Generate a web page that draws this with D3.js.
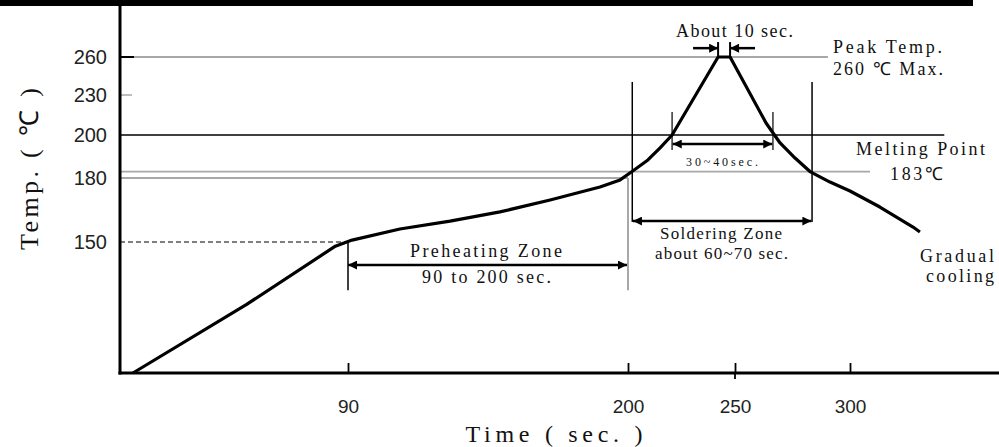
<!DOCTYPE html>
<html><head><meta charset="utf-8">
<script src="https://cdn.jsdelivr.net/npm/d3@7"></script>
<style>
html,body{margin:0;padding:0;background:#fff;}
svg{display:block;}
</style></head>
<body>
<svg id="chart" width="999" height="447"></svg>
<script>
// ---- data ----
const profileTime = [5.1, 50, 85, 91.6, 110.4, 130.1, 149.7, 169.4, 189, 196.9, 201.9, 209.3, 215, 220.6, 242.1, 247.7, 263.5, 269.6, 276.1, 282.6, 291.3, 300, 313, 327.4, 330.4];
const profileTemp = [25, 90.5, 146, 150.9, 156.1, 159.8, 164.1, 169.7, 175.8, 179.1, 183, 188.4, 194, 200, 260, 260, 209, 196.3, 189.3, 183, 178.1, 173.9, 166.4, 157, 154.7];
const xTicks = [90, 200, 250, 300];
const yTicks = [150, 180, 200, 230, 260];
const peakTemp = 260, meltTemp = 183, soakTemp = 180, preheatTemp = 150, refTemp = 200;
const preheatStart = 90, preheatEnd = 200;
const solderStart = 202, solderEnd = 283.5;
const liquidStart = 220.6, liquidEnd = 266.5;
const peakStart = 242.1, peakEnd = 247.7;

// ---- scales (piecewise, as in the drawing) ----
const x = d3.scaleLinear().domain([0, 90, 200, 250, 300, 365]).range([120, 348, 628, 735, 850, 999.5]);
const y = d3.scaleLinear().domain([25, 150, 180, 200, 230, 260, 300]).range([373, 242, 178, 135, 95, 57, 6.4]);

const svg = d3.select("#chart");
const serif = "'Liberation Serif','Times New Roman',serif";
const sans = "'Liberation Sans Narrow','Liberation Sans',Arial,sans-serif";

const defs = svg.append("defs");
defs.append("marker").attr("id","ah").attr("viewBox","0 0 10 10").attr("refX",10).attr("refY",5)
  .attr("markerWidth",5).attr("markerHeight",3.6).attr("markerUnits","strokeWidth").attr("orient","auto-start-reverse")
  .append("path").attr("d","M0,0 L10,5 L0,10 z").attr("fill","#000");

// top bar (remnant of title rule)
svg.append("rect").attr("x",0).attr("y",0).attr("width",973).attr("height",6).attr("fill","#000");

const gray = "#a8a8a8";
function hline(t, t0, t1, color, w, dash) {
  svg.append("line").attr("x1", x(t0)).attr("x2", x(t1)).attr("y1", y(t)).attr("y2", y(t))
    .attr("stroke", color).attr("stroke-width", w).attr("stroke-dasharray", dash || null);
}
function vline(t, v0, v1, color, w) {
  svg.append("line").attr("x1", x(t)).attr("x2", x(t)).attr("y1", y(v0)).attr("y2", y(v1))
    .attr("stroke", color).attr("stroke-width", w);
}
function arrow(v, t0, t1, both) {
  const l = svg.append("line").attr("x1", x(t0)).attr("x2", x(t1)).attr("y1", y(v)).attr("y2", y(v))
    .attr("stroke", "#000").attr("stroke-width", 2.5).attr("marker-end","url(#ah)");
  if (both) l.attr("marker-start","url(#ah)");
}

// reference lines
hline(peakTemp, 0, 290.4, gray, 2);
svg.append("line").attr("x1",x(0)).attr("x2",x(0)+14).attr("y1",y(peakTemp)).attr("y2",y(peakTemp)).attr("stroke","#000").attr("stroke-width",2);
svg.append("line").attr("x1",x(0)).attr("x2",x(0)+12).attr("y1",y(230)).attr("y2",y(230)).attr("stroke",gray).attr("stroke-width",1.5);
hline(refTemp, 0, 341, "#000", 1.3);
hline(meltTemp, 0, 308.7, gray, 1.8);
hline(soakTemp, 0, preheatEnd, gray, 1.8);
vline(preheatEnd, soakTemp, 104, gray, 2);
hline(preheatTemp, 0, preheatStart, "#000", 1.2, "5,3");

// preheating zone
vline(preheatStart, preheatTemp, 104, "#000", 1.5);
arrow(128, preheatStart, preheatEnd - 0.4, true);

// soldering zone
vline(solderStart, 240.3, 159.4, "#000", 1.5);
vline(solderEnd, 240.3, 159.4, "#000", 1.5);
arrow(159.8, solderStart + 0.3, solderEnd - 0.3, true);

// 30~40 sec
vline(liquidStart, 217.2, 193, "#000", 1.2);
vline(liquidEnd, 217.2, 193, "#000", 1.2);
arrow(195.8, liquidStart + 0.3, liquidEnd - 0.3, true);

// about 10 sec
vline(peakStart, 271.8, peakTemp, "#000", 2);
vline(peakEnd, 271.8, peakTemp, "#000", 2);
arrow(267, 230.4, peakStart);
arrow(267, 258.7, peakEnd);

// profile curve
const pts = profileTime.map((t, i) => [t, profileTemp[i]]);
svg.append("path").datum(pts)
  .attr("d", d3.line().x(d => x(d[0])).y(d => y(d[1])).curve(d3.curveLinear))
  .attr("fill","none").attr("stroke","#000").attr("stroke-width",3.2).attr("stroke-linejoin","round");

// axes
const yAxis = svg.append("g").attr("transform", `translate(${x(0)},0)`)
  .call(d3.axisLeft(y).tickValues(yTicks).tickSize(0).tickPadding(13).tickFormat(d3.format("d")));
yAxis.select(".domain").remove();
yAxis.selectAll("text").attr("font-family", sans).attr("font-size", 20).attr("fill","#222");

const xAxis = svg.append("g").attr("transform", `translate(0,${y(25)})`)
  .call(d3.axisBottom(x).tickValues(xTicks).tickSizeInner(-10).tickSizeOuter(0).tickPadding(27).tickFormat(d3.format("d")));
xAxis.select(".domain").remove();
xAxis.selectAll(".tick line").attr("stroke","#000").attr("stroke-width",1.8);
xAxis.selectAll("text").attr("font-family", sans).attr("font-size", 19).attr("fill","#222");
svg.append("line").attr("x1",x(250)).attr("x2",x(250)).attr("y1",y(25)).attr("y2",y(25)+6).attr("stroke","#000").attr("stroke-width",1.8);

svg.append("line").attr("x1",x(0)).attr("x2",x(0)).attr("y1",6).attr("y2",y(25)+1.5).attr("stroke","#000").attr("stroke-width",3);
svg.append("line").attr("x1",x(0)-1.5).attr("x2",999).attr("y1",y(25)).attr("y2",y(25)).attr("stroke","#000").attr("stroke-width",3);

// texts
function label(txt, cx, by, len, size, anchor) {
  svg.append("text").attr("x", cx).attr("y", by).attr("text-anchor", anchor || "middle")
    .attr("font-family", serif).attr("font-size", size).attr("fill", "#111")
    .attr("textLength", len).attr("lengthAdjust", "spacing").text(txt);
}
label("About 10 sec.", 734.5, 37, 117, 18);
label("Peak Temp.", 833, 53, 109, 18, "start");
label("260 ℃ Max.", 833, 75, 110, 18, "start");
label("Melting Point", 920.5, 155, 129, 18);
label("183℃", 916.5, 180, 53, 18);
label("30~40sec.", 722, 166, 72, 12);
label("Soldering Zone", 721, 239, 122, 17);
label("about 60~70 sec.", 721.5, 259, 133, 17);
label("Preheating Zone", 486, 257, 152, 18);
label("90 to 200 sec.", 486.5, 283, 129, 18);
label("Gradual", 957, 262, 74, 18);
label("cooling", 960, 282, 68, 18);

svg.append("text").attr("x", 554).attr("y", 442).attr("text-anchor","middle")
  .attr("font-family", serif).attr("font-size", 24).attr("fill","#111")
  .attr("textLength", 177).attr("lengthAdjust","spacing").text("Time ( sec. )");
svg.append("text").attr("transform","translate(38,169) rotate(-90)").attr("text-anchor","middle")
  .attr("font-family", serif).attr("font-size", 26).attr("fill","#111")
  .attr("textLength", 162).attr("lengthAdjust","spacing").text("Temp. ( ℃ )");
</script>
</body></html>
